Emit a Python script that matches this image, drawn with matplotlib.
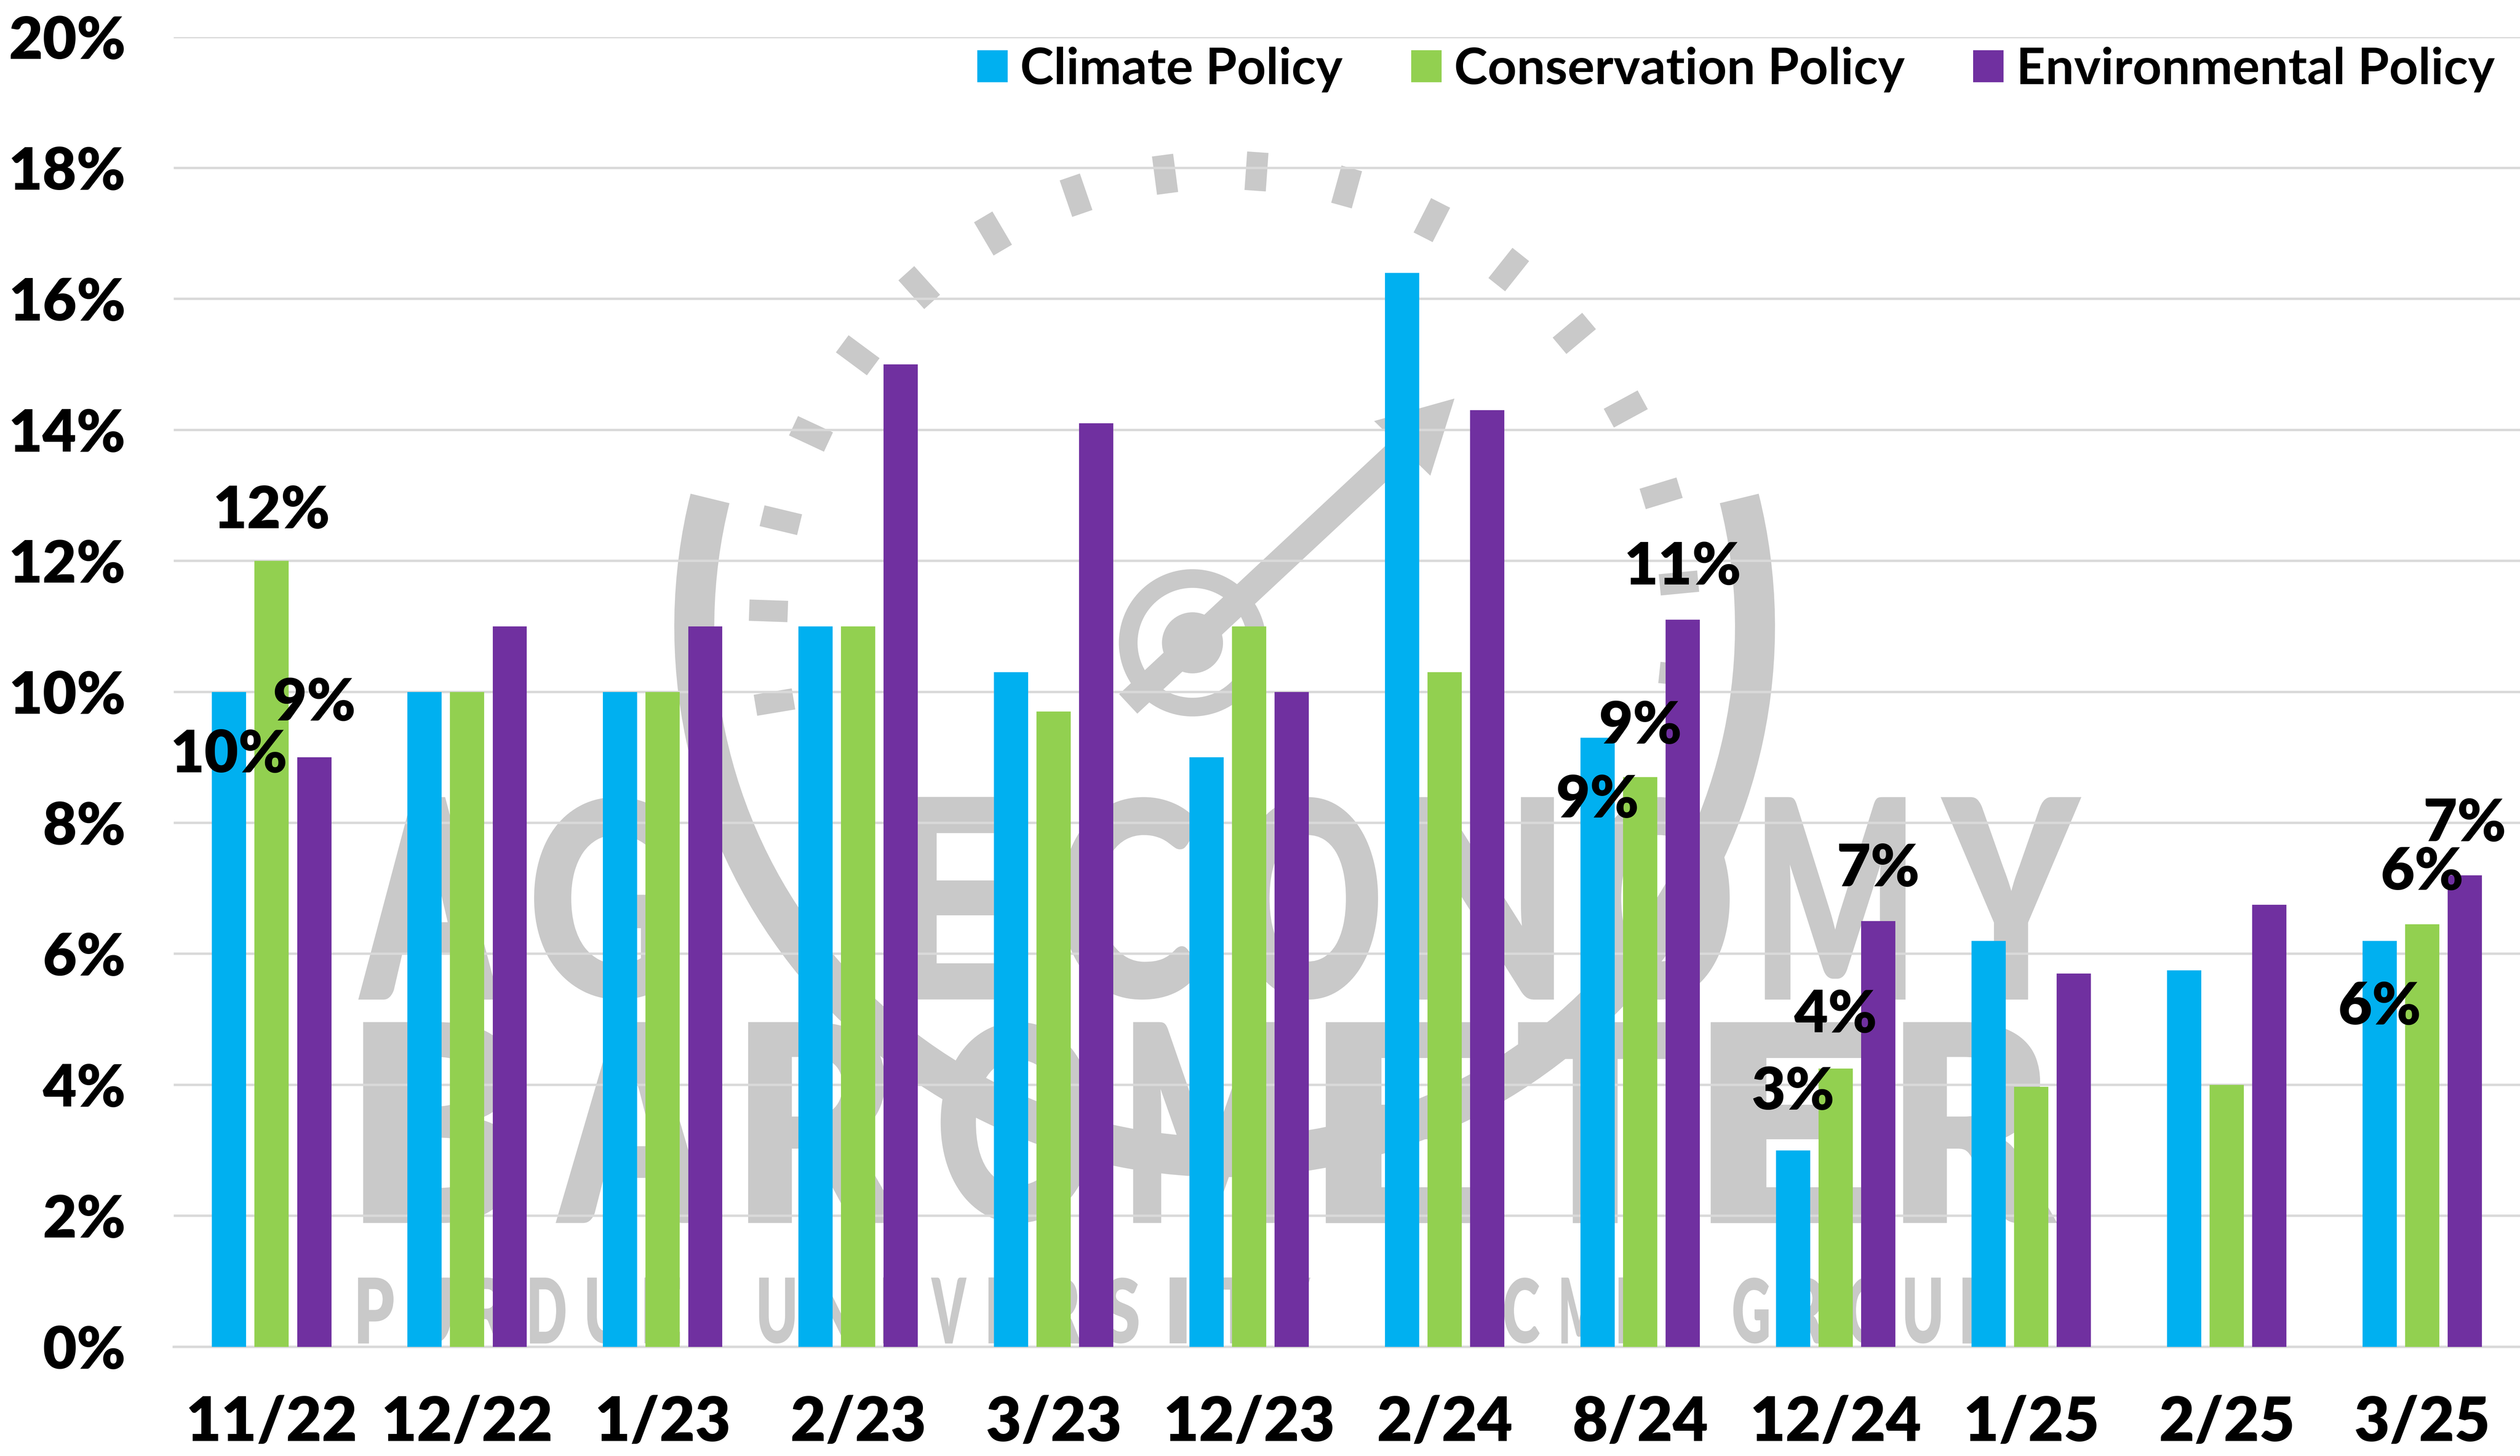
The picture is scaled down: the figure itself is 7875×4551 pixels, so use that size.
import math

import matplotlib

matplotlib.use("Agg")
import matplotlib.pyplot as plt
import numpy as np
from matplotlib.font_manager import FontProperties
from matplotlib.patches import Arc, Circle, PathPatch, Polygon
from matplotlib.textpath import TextPath
from matplotlib.transforms import Affine2D

# --- data (percent of respondents) ---
categories = ["11/22", "12/22", "1/23", "2/23", "3/23", "12/23",
              "2/24", "8/24", "12/24", "1/25", "2/25", "3/25"]
climate = [10, 10, 10, 11, 10.3, 9, 16.4, 9.3, 3.0, 6.2, 5.75, 6.2]
conservation = [12, 10, 10, 11, 9.7, 11, 10.3, 8.7, 4.25, 3.97, 4.0, 6.45]
environmental = [9, 11, 11, 15, 14.1, 10, 14.3, 11.1, 6.5, 5.7, 6.75, 7.2]
series_names = ["Climate Policy", "Conservation Policy", "Environmental Policy"]
y_ticks = [0, 2, 4, 6, 8, 10, 12, 14, 16, 18, 20]

# which groups carry data labels, and where the label sits relative to the bar top
labelled = ["11/22", "8/24", "12/24", "3/25"]
label_dy = {
    "Climate Policy": [-0.97, -0.96, 0.88, -1.02],
    "Conservation Policy": [0.76, 0.77, 0.81, 0.79],
    "Environmental Policy": [0.82, 0.80, 0.79, 0.78],
}

COLORS = ["#00B0F0", "#92D050", "#7030A0"]
GRID = "#D9D9D9"
WM = "#C9C9C9"
FONT = ["Lato", "DejaVu Sans"]
HEAVY = "heavy"

plt.rcParams["font.family"] = FONT

fig = plt.figure(figsize=(26.25, 15.17), dpi=300)

# --- watermark layer, in 1568x906 "screen" units ---
wm = fig.add_axes([0, 0, 1, 1], zorder=0)
wm.set_xlim(0, 1568)
wm.set_ylim(906, 0)
wm.axis("off")

wm_font = FontProperties(family="Lato", weight="heavy")


def spaced_text(ax, s, x0, x1, ytop, ybot, fill=0.8):
    """Draw each letter stretched into an equal slot of the box."""
    slot = (x1 - x0) / len(s)
    for i, ch in enumerate(s):
        if ch == " ":
            continue
        p = TextPath((0, 0), ch, size=100, prop=wm_font)
        ext = p.get_extents()
        w = slot * fill if ch not in "I/|" else slot * 0.3
        cx = x0 + slot * (i + 0.5)
        tr = (Affine2D()
              .translate(-ext.x0 - ext.width / 2, -ext.y0)
              .scale(w / ext.width, -(ybot - ytop) / ext.height)
              .translate(cx, ybot))
        ax.add_patch(PathPatch(tr.transform_path(p), color=WM, lw=0))


# gauge ring + ticks + needle
cx, cy, r = 762, 390, 330
wm.add_patch(Arc((cx, cy), 2 * r, 2 * r, theta1=-14, theta2=194,
                 color=WM, lw=30))
for ang in np.arange(-6, 190, 11.5):
    a = math.radians(ang)
    r0, r1 = 272, 296
    wm.plot([cx + r0 * math.cos(a), cx + r1 * math.cos(a)],
            [cy - r0 * math.sin(a), cy - r1 * math.sin(a)],
            color=WM, lw=16, solid_capstyle="butt")
hub = (742, 400)
tip = (905, 248)
wm.plot([hub[0] - 40, tip[0] - 25], [hub[1] + 38, tip[1] + 24], color=WM, lw=20,
        solid_capstyle="butt")
wm.add_patch(Polygon([tip, (855, 262), (890, 296)], closed=True, color=WM, lw=0))
wm.add_patch(Circle(hub, 40, fill=False, ec=WM, lw=14))
wm.add_patch(Circle(hub, 19, color=WM, lw=0))

spaced_text(wm, "AG ECONOMY", 212, 1306, 496, 622)
spaced_text(wm, "BAROMETER", 214, 1292, 636, 761)
spaced_text(wm, "PURDUE UNIVERSITY / CME GROUP", 216, 1250, 795, 836, fill=0.62)

# --- main chart ---
ax = fig.add_axes([0.069, 0.075, 0.931, 0.8996], zorder=1)
ax.patch.set_alpha(0)

x = np.arange(len(categories))
width = 0.175
offsets = [-0.218, 0.0, 0.218]
all_series = [climate, conservation, environmental]

for vals, name, col, off in zip(all_series, series_names, COLORS, offsets):
    ax.bar(x + off, vals, width, color=col, label=name, zorder=3)

# data labels
for vals, name, off in zip(all_series, series_names, offsets):
    for cat, dy in zip(labelled, label_dy[name]):
        i = categories.index(cat)
        v = vals[i]
        ax.text(i + off, v + dy, f"{math.floor(v + 0.5):d}%",
                ha="center", va="center", fontsize=44, fontweight=HEAVY,
                color="black", zorder=5)

ax.set_xlim(-0.5, len(categories) - 0.5)
ax.set_ylim(0, 20)
ax.set_yticks(y_ticks)
ax.set_yticklabels([f"{t}%" for t in y_ticks])
ax.set_xticks(x)
ax.set_xticklabels(categories)
ax.tick_params(axis="y", length=0, pad=36, labelsize=44)
ax.tick_params(axis="x", length=0, pad=36, labelsize=46)
for lab in ax.get_xticklabels() + ax.get_yticklabels():
    lab.set_fontweight(HEAVY)

ax.grid(axis="y", color=GRID, lw=1.8, zorder=1)
ax.set_axisbelow(True)
for side in ["top", "right", "left"]:
    ax.spines[side].set_visible(False)
ax.spines["bottom"].set_color(GRID)
ax.spines["bottom"].set_linewidth(1.8)

leg = ax.legend(loc="upper right", bbox_to_anchor=(1.0, 1.012), ncol=3,
                frameon=False, fontsize=38, handlelength=0.6, handleheight=0.6,
                handletextpad=0.25, columnspacing=1.35, borderaxespad=0.1)
for t in leg.get_texts():
    t.set_fontweight("bold")

fig.savefig("out.png", dpi=300)
